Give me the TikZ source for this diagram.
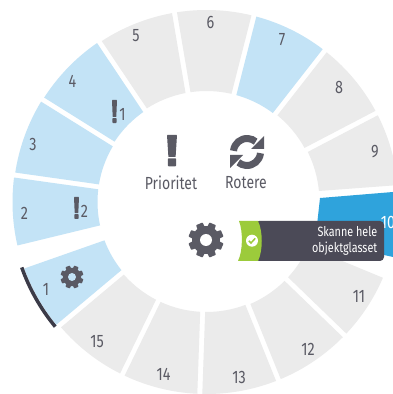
\documentclass[tikz,border=0pt]{standalone}
\usepackage{fontspec}
\setmainfont[FakeStretch=0.8]{Fira Sans}
\definecolor{seggray}{HTML}{EBEBEB}
\definecolor{seglight}{HTML}{C3E3F6}
\definecolor{segblue}{HTML}{2FA3DC}
\definecolor{tipdark}{HTML}{4B4A57}
\definecolor{tipgreen}{HTML}{9CCB3B}
\definecolor{inkgray}{HTML}{5A5A64}
\definecolor{rimdark}{HTML}{3B3B48}
\tikzset{
  numlabel/.style={text=inkgray,font=\fontsize{18}{18}\selectfont,inner sep=0pt},
  menulabel/.style={text=inkgray,font=\fontsize{17.5}{17.5}\selectfont,inner sep=0pt},
  tiptext/.style={text=white,font=\fontsize{13.5}{16}\selectfont,inner sep=0pt,align=right,anchor=east},
}
% wheel segment: colour, start angle, end angle, outer radius, inner radius
\newcommand{\wheelseg}[5]{%
  \fill[#1] ({#2+0.75}:#4) arc[start angle={#2+0.75},end angle={#3-0.75},radius=#4]
    -- ({#3-1.3}:#5) arc[start angle={#3-1.3},end angle={#2+1.3},radius=#5] -- cycle;}
% gear: x, y, radius, hole radius, hole colour
\newcommand{\gearicon}[5]{%
  \begin{scope}[shift={(#1,#2)}]
    \fill[inkgray] (0,0) circle[radius={0.8*#3}];
    \foreach \t in {0,45,...,315}{
      \fill[inkgray,rotate=\t+22.5,rounded corners=0.6pt] ({-0.27*#3},0) -- ({-0.2*#3},#3) -- ({0.2*#3},#3) -- ({0.27*#3},0) -- cycle;}
    \fill[#5] (0,0) circle[radius=#4];
  \end{scope}}
% exclamation mark: centre x, top y, width, bar height, dot height
\newcommand{\exclaim}[5]{%
  \fill[inkgray,rounded corners=0.5pt] ({#1-#3/2},#2) -- ({#1+#3/2},#2) -- ({#1+0.36*#3},{#2-#4}) -- ({#1-0.36*#3},{#2-#4}) -- cycle;
  \fill[inkgray,rounded corners=0.8pt] ({#1-0.42*#3},{#2-#4-0.06*#4}) rectangle ({#1+0.42*#3},{#2-#4-0.06*#4-#5});}
\begin{document}
\begin{tikzpicture}[x=1pt,y=1pt]
  \useasboundingbox (0,0) rectangle (393,394);
  \clip (0,0) rectangle (393,394);
  \fill[white] (0,0) rectangle (393,394);
  \begin{scope}[shift={(206.5,192)}]
    \wheelseg{seggray}{75.7}{99.6}{192}{111}
    \wheelseg{seggray}{99.6}{123.8}{192}{111}
    \wheelseg{seglight}{123.8}{148}{193}{110}
    \wheelseg{seglight}{148}{172}{193.5}{109}
    \wheelseg{seglight}{172}{193.7}{194}{109}
    \wheelseg{seglight}{199.3}{220}{194}{109}
    \wheelseg{seggray}{220}{244}{192}{110}
    \wheelseg{seggray}{244}{268}{192}{110}
    \wheelseg{seggray}{268}{292}{192}{110}
    \wheelseg{seggray}{292}{316}{192}{111}
    \wheelseg{seggray}{316}{337.5}{192}{111}
    \wheelseg{seggray}{4.3}{27.6}{192}{113}
    \wheelseg{seggray}{27.6}{52}{192}{112}
    \wheelseg{seglight}{52}{75.7}{192}{111}
    \draw[rimdark,line width=3.5pt] (199.5:196) arc[start angle=199.5,end angle=219.5,radius=196];
  \end{scope}
  % segment 10
  \fill[segblue] (320,196) -- (393,202) -- (393,137) -- (384,139) -- (317,169) -- cycle;
  \node[text=white,font=\fontsize{18}{18}\selectfont,inner sep=0pt] (n10) at (388,172) {10};
  % tooltip
  \fill[tipdark,rounded corners=4pt] (255,173) -- (384,173) -- (384,133) -- (255,133) -- cycle;
  \fill[tipgreen] (239,173) .. controls (243,163) and (243,143) .. (238,133)
    -- (258,133) .. controls (263,143) and (263,163) .. (258,173) -- cycle;
  \fill[white] (252,153.3) circle[radius=6];
  \draw[tipgreen,line width=1.5pt] (248.8,153.2) -- (251,151) -- (255.2,155.6);
  \node[tiptext] (tip) at (377.5,153) {Skanne hele\\objektglasset};
  % numbers
  \node[numlabel] (n1) at (46,105) {1};
  \node[numlabel] (n2) at (24.5,181) {2};
  \node[numlabel] (n3) at (33,250) {3};
  \node[numlabel] (n4) at (72.5,313) {4};
  \node[numlabel] (n5) at (136,358) {5};
  \node[numlabel] (n6) at (210.5,372) {6};
  \node[numlabel] (n7) at (282,354) {7};
  \node[numlabel] (n8) at (339,307) {8};
  \node[numlabel] (n9) at (375,242) {9};
  \node[numlabel] (n11) at (359,98) {11};
  \node[numlabel] (n12) at (308,45) {12};
  \node[numlabel] (n13) at (239,17) {13};
  \node[numlabel] (n14) at (163.5,20) {14};
  \node[numlabel] (n15) at (97,52) {15};
  % priority marks
  \exclaim{114.5}{294}{5}{17}{5}
  \node[numlabel] (p1) at (122.5,280) {1};
  \exclaim{76.5}{197}{5}{16}{5}
  \node[numlabel] (p2) at (84.5,183) {2};
  % menu
  \exclaim{172}{259}{10}{22}{8}
  \node[menulabel] (prio) at (171,211) {Prioritet};
  \begin{scope}[shift={(247,242)}]
    \draw[inkgray,line width=7pt] (175:13.5) arc[start angle=175,end angle=50,radius=13.5];
    \draw[inkgray,line width=7pt] (-5:13.5) arc[start angle=-5,end angle=-130,radius=13.5];
    \fill[inkgray] (17,16) -- (17,3) -- (4,3) -- cycle;
    \fill[inkgray] (-17,-16) -- (-17,-3) -- (-4,-3) -- cycle;
  \end{scope}
  \node[menulabel] (rot) at (246,211) {Rotere};
  \gearicon{206}{154}{17.5}{6}{white}
  \gearicon{72}{117}{11.5}{4}{seglight}
\end{tikzpicture}
\end{document}
